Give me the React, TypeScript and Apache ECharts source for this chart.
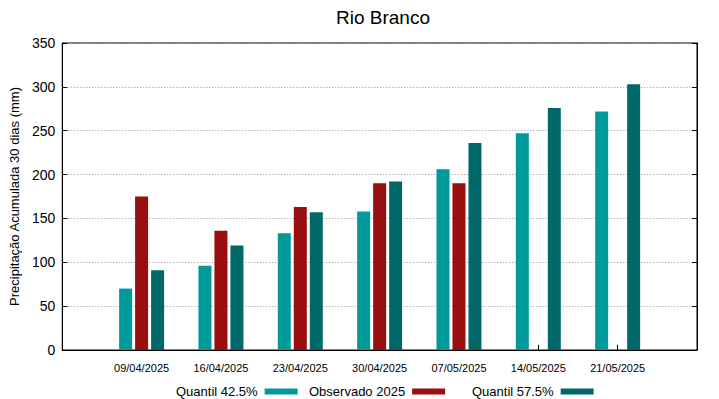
import React, { useEffect, useRef } from "react";
import * as echarts from "echarts";

const categories = ["", "09/04/2025", "16/04/2025", "23/04/2025", "30/04/2025", "07/05/2025", "14/05/2025", "21/05/2025", ""];
const quantil425 = [null, 70, 96, 133, 158, 206, 247, 272, null];
const observado2025 = [null, 175, 136, 163, 190, 190, null, null, null];
const quantil575 = [null, 91, 119, 157, 192, 236, 276, 303, null];
const yTicks = { min: 0, max: 350, interval: 50 };

const FONT = "Liberation Sans";
const C1 = "#009a9a";
const C2 = "#990e0e";
const C3 = "#006868";

export default function App() {
  const ref = useRef<HTMLDivElement>(null);
  useEffect(() => {
    const chart = echarts.init(ref.current!, null, { renderer: "svg" });
    const legendBase = {
      top: 380,
      orient: "horizontal" as const,
      align: "right" as const,
      itemWidth: 33,
      itemHeight: 6,
      icon: "rect",
      itemGap: 0,
      textStyle: { fontFamily: FONT, fontSize: 13, color: "#000", padding: [0, 2, 0, 0] },
    };
    chart.setOption({
      animation: false,
      textStyle: { fontFamily: FONT },
      title: {
        text: "Rio Branco",
        left: 378,
        textAlign: "center",
        top: 3,
        textStyle: { fontFamily: FONT, fontSize: 19, fontWeight: "normal", color: "#000" },
      },
      legend: [
        { ...legendBase, left: 171, data: ["Quantil 42.5%"] },
        { ...legendBase, left: 304, data: ["Observado 2025"] },
        { ...legendBase, left: 467, data: ["Quantil 57.5%"] },
      ],
      grid: { left: 59, right: 22, top: 43, bottom: 49, containLabel: false, show: true, borderColor: "#000", borderWidth: 1 },
      xAxis: [
        {
          type: "category",
          data: categories,
          boundaryGap: false,
          axisLine: { show: true, lineStyle: { color: "#000", width: 1 } },
          axisTick: { show: true, inside: true, length: 5, lineStyle: { color: "#000" } },
          axisLabel: { fontFamily: FONT, fontSize: 11, color: "#000", margin: 12, interval: 0 },
          splitLine: { show: false },
        },
      ],
      yAxis: [
        {
          type: "value",
          min: yTicks.min,
          max: yTicks.max,
          interval: yTicks.interval,
          name: "Precipitação Acumulada 30 dias (mm)",
          nameLocation: "middle",
          nameGap: 31,
          nameTextStyle: { fontFamily: FONT, fontSize: 13, color: "#000" },
          axisLine: { show: true, lineStyle: { color: "#000", width: 1 } },
          axisTick: { show: true, inside: true, length: 5, lineStyle: { color: "#000" } },
          axisLabel: { fontFamily: FONT, fontSize: 14, color: "#000", margin: 7 },
          splitLine: { show: true, lineStyle: { color: "#999", type: [1, 2], width: 1 } },
        },
        {
          type: "value",
          min: yTicks.min,
          max: yTicks.max,
          interval: yTicks.interval,
          position: "right",
          axisLine: { show: true, lineStyle: { color: "#000", width: 1 } },
          axisTick: { show: true, inside: true, length: 5, lineStyle: { color: "#000" } },
          axisLabel: { show: false },
          splitLine: { show: false },
        },
      ],
      series: [
        { name: "Quantil 42.5%", type: "bar", data: quantil425, barWidth: 13, barGap: "23%", itemStyle: { color: C1 } },
        { name: "Observado 2025", type: "bar", data: observado2025, barWidth: 13, barGap: "23%", itemStyle: { color: C2 } },
        { name: "Quantil 57.5%", type: "bar", data: quantil575, barWidth: 13, barGap: "23%", itemStyle: { color: C3 } },
      ],
    });
    return () => chart.dispose();
  }, []);
  return <div ref={ref} style={{ width: 719, height: 399, position: "absolute", left: 0, top: 0, background: "#fff" }} />;
}
